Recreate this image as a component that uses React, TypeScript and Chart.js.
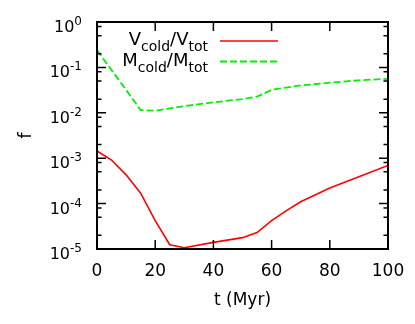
import { useEffect, useRef } from "react";
import { Chart, registerables } from "chart.js";

Chart.register(...registerables);

// ---- data ----
const times = [0, 5, 10, 15, 20, 25, 30, 40, 50, 55, 60, 65, 70, 80, 90, 100];
const vColdFrac = [1.44e-3, 9.1e-4, 4.3e-4, 1.7e-4, 4.2e-5, 1.24e-5, 1.07e-5, 1.4e-5, 1.78e-5, 2.3e-5, 4.2e-5, 6.9e-5, 1.1e-4, 2.2e-4, 3.9e-4, 6.9e-4];
const mColdFrac = [0.24, 0.087, 0.032, 0.0115, 0.0111, 0.0125, 0.014, 0.017, 0.02, 0.0227, 0.032, 0.036, 0.04, 0.046, 0.052, 0.056];

const xTickValues = [0, 20, 40, 60, 80, 100];
const yTickExponents = [0, -1, -2, -3, -4, -5];
const yMinorMultipliers = [2, 5, 8];

const legendV = [["V", "cold"], ["/V", "tot"]];
const legendM = [["M", "cold"], ["/M", "tot"]];
const xTitle = "t (Myr)";
const yTitle = "f";

const FONT = "'DejaVu Sans', 'Liberation Sans', Arial, sans-serif";

function drawSubText(ctx: CanvasRenderingContext2D, parts: string[][], rightX: number, baseY: number, mainSize: number, subSize: number, subShift: number) {
  ctx.textAlign = "left";
  ctx.textBaseline = "alphabetic";
  let total = 0;
  const widths: number[][] = [];
  for (const [m, s] of parts) {
    ctx.font = `${mainSize}px ${FONT}`;
    const wm = ctx.measureText(m).width;
    ctx.font = `${subSize}px ${FONT}`;
    const ws = ctx.measureText(s).width;
    widths.push([wm, ws]);
    total += wm + ws;
  }
  let x = rightX - total;
  parts.forEach(([m, s], i) => {
    ctx.font = `${mainSize}px ${FONT}`;
    ctx.fillText(m, x, baseY);
    x += widths[i][0];
    ctx.font = `${subSize}px ${FONT}`;
    ctx.fillText(s, x, baseY + subShift);
    x += widths[i][1];
  });
}

const decorPlugin = {
  id: "decor",
  afterDraw(chart: any) {
    const ctx: CanvasRenderingContext2D = chart.ctx;
    const { left, right, top, bottom } = chart.chartArea;
    const xs = chart.scales.x;
    const ys = chart.scales.y;
    ctx.save();
    ctx.strokeStyle = "#000";
    ctx.fillStyle = "#000";
    // box
    ctx.lineWidth = 2;
    ctx.strokeRect(left, top, right - left, bottom - top);
    // ticks
    ctx.lineWidth = 1.5;
    const major = 9;
    const minor = 4.5;
    ctx.beginPath();
    for (const v of xTickValues) {
      const px = xs.getPixelForValue(v);
      ctx.moveTo(px, bottom);
      ctx.lineTo(px, bottom - major);
      ctx.moveTo(px, top);
      ctx.lineTo(px, top + major);
    }
    for (const e of yTickExponents) {
      const py = ys.getPixelForValue(Math.pow(10, e));
      ctx.moveTo(left, py);
      ctx.lineTo(left + major, py);
      ctx.moveTo(right, py);
      ctx.lineTo(right - major, py);
      if (e < 0) {
        for (const m of yMinorMultipliers) {
          const my = ys.getPixelForValue(m * Math.pow(10, e));
          ctx.moveTo(left, my);
          ctx.lineTo(left + minor, my);
          ctx.moveTo(right, my);
          ctx.lineTo(right - minor, my);
        }
      }
    }
    ctx.stroke();

    // x tick labels
    ctx.font = `17px ${FONT}`;
    ctx.textAlign = "center";
    ctx.textBaseline = "alphabetic";
    for (const v of xTickValues) {
      ctx.fillText(String(v), xs.getPixelForValue(v), bottom + 27);
    }
    // y tick labels 10^e
    for (const e of yTickExponents) {
      const py = ys.getPixelForValue(Math.pow(10, e));
      ctx.font = `12px ${FONT}`;
      const expStr = e === 0 ? "0" : "-" + String(-e);
      const we = ctx.measureText(expStr).width;
      ctx.font = `16px ${FONT}`;
      const wb = ctx.measureText("10").width;
      const rx = left - 15;
      ctx.textAlign = "left";
      ctx.fillText("10", rx - we - wb, py + 10);
      ctx.font = `12px ${FONT}`;
      ctx.fillText(expStr, rx - we, py + 3);
    }
    // axis titles
    ctx.font = `17px ${FONT}`;
    ctx.textAlign = "center";
    ctx.fillText(xTitle, (left + right) / 2, bottom + 56);
    ctx.save();
    ctx.translate(31, (top + bottom) / 2);
    ctx.rotate(-Math.PI / 2);
    ctx.font = `18px ${FONT}`;
    ctx.fillText(yTitle, 0, 0);
    ctx.restore();

    // legend
    drawSubText(ctx, legendV, 208, 45, 18, 14, 6);
    drawSubText(ctx, legendM, 208, 66, 18, 14, 6);
    const ds = chart.data.datasets;
    ctx.lineWidth = ds[0].borderWidth;
    ctx.strokeStyle = ds[0].borderColor;
    ctx.setLineDash([]);
    ctx.beginPath();
    ctx.moveTo(220, 41);
    ctx.lineTo(278, 41);
    ctx.stroke();
    ctx.lineWidth = ds[1].borderWidth;
    ctx.strokeStyle = ds[1].borderColor;
    ctx.setLineDash(ds[1].borderDash);
    ctx.beginPath();
    ctx.moveTo(220, 61.5);
    ctx.lineTo(278, 61.5);
    ctx.stroke();
    ctx.restore();
  },
};

export default function App() {
  const ref = useRef<HTMLCanvasElement>(null);
  useEffect(() => {
    if (!ref.current) return;
    const chart = new Chart(ref.current, {
      type: "line",
      data: {
        datasets: [
          {
            label: "Vcold/Vtot",
            data: times.map((t, i) => ({ x: t, y: vColdFrac[i] })),
            borderColor: "#ff0000",
            borderWidth: 1.6,
            pointRadius: 0,
            tension: 0,
            fill: false,
          },
          {
            label: "Mcold/Mtot",
            data: times.map((t, i) => ({ x: t, y: mColdFrac[i] })),
            borderColor: "#00f000",
            borderWidth: 1.8,
            borderDash: [7, 3],
            pointRadius: 0,
            tension: 0,
            fill: false,
          },
        ],
      },
      options: {
        animation: false,
        responsive: false,
        devicePixelRatio: 1,
        layout: { padding: { left: 97, top: 22, right: 27, bottom: 75 } },
        plugins: { legend: { display: false }, tooltip: { enabled: false } },
        scales: {
          x: { type: "linear", min: 0, max: 100, display: false },
          y: { type: "logarithmic", min: 1e-5, max: 1, display: false },
        },
      },
      plugins: [decorPlugin],
    });
    return () => chart.destroy();
  }, []);
  return (
    <div style={{ position: "fixed", left: 0, top: 0, width: 415, height: 324, background: "#fff" }}>
      <canvas ref={ref} width={415} height={324} />
    </div>
  );
}
